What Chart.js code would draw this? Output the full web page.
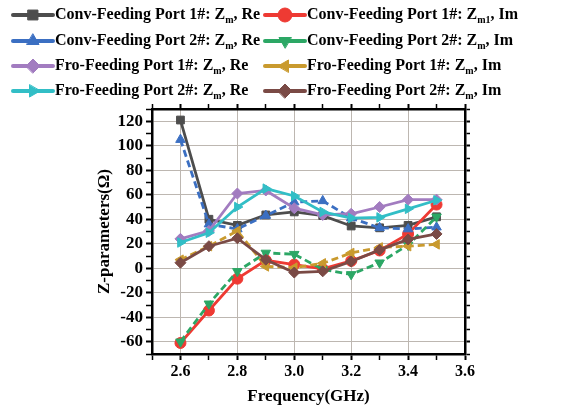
<!DOCTYPE html>
<html>
<head>
<meta charset="utf-8">
<script src="https://cdn.jsdelivr.net/npm/chart.js@4.4.1/dist/chart.umd.min.js"></script>
<style>
  html, body { margin: 0; padding: 0; background: #fff; }
  #wrap { width: 561px; height: 405px; }
</style>
</head>
<body>
<div id="wrap"><canvas id="chart" width="561" height="405"></canvas></div>
<script>
// frequency points (GHz)
const freq = [2.6, 2.7, 2.8, 2.9, 3.0, 3.1, 3.2, 3.3, 3.4, 3.5];

// real parts
const convP1Re = [121, 40, 35, 43.5, 46, 43, 34.5, 33, 35, 42];
const convP2Re = [105, 36, 32, 43, 54, 55, 41, 33, 32, 33.5];
const froP1Re  = [24, 30.5, 61, 63.5, 49, 43.5, 44.5, 50, 56, 56];
const froP2Re  = [21, 29, 50, 65, 59, 46, 41, 41.5, 48.5, 55.5];

// imaginary parts
const convP1Im = [-61, -34.5, -8.5, 6.5, 3, -0.5, 6, 14.5, 28, 52];
const convP2Im = [-60, -29, -2.5, 12.5, 11.5, -1, -5, 4.5, 19, 42];
const froP1Im  = [7, 18, 30.5, 1.5, 0.5, 4, 12.5, 17, 18, 19.5];
const froP2Im  = [4.5, 18, 24.5, 7, -3.5, -2.5, 5.5, 15, 23.5, 28];

// legend text: [before subscript, subscript, after]
const labels = [
    ["Conv-Feeding Port 1#: Z", "m", ", Re"],
    ["Conv-Feeding Port 1#: Z", "m1", ", Im"],
    ["Conv-Feeding Port 2#: Z", "m", ", Re"],
    ["Conv-Feeding Port 2#: Z", "m", ", Im"],
    ["Fro-Feeding Port 1#: Z", "m", ", Re"],
    ["Fro-Feeding Port 1#: Z", "m", ", Im"],
    ["Fro-Feeding Port 2#: Z", "m", ", Re"],
    ["Fro-Feeding Port 2#: Z", "m", ", Im"]
];

const yTicks = [-60, -40, -20, 0, 20, 40, 60, 80, 100, 120];
const xTicks = [2.6, 2.8, 3.0, 3.2, 3.4, 3.6];

const serif = "'Liberation Serif', 'DejaVu Serif', serif";
const gridGray = "#bdb7b1";

function serie(values, color, style, rot, dashed) {
    return {
        data: freq.map((f, i) => ({ x: f, y: values[i] })),
        borderColor: color,
        backgroundColor: color,
        pointBackgroundColor: color,
        pointBorderColor: color,
        pointStyle: style,
        pointRotation: rot,
        pointRadius: 5.5,
        pointBorderWidth: 1,
        borderWidth: 2.8,
        borderDash: dashed ? [7, 4] : [],
        tension: 0
    };
}

// legend order (row by row), later ones drawn on top
const datasets = [
    serie(convP1Re, "#4d4d4d", "rect", 0, false),
    serie(convP1Im, "#ee3a33", "circle", 0, false),
    serie(convP2Re, "#3b6fc2", "triangle", 0, true),
    serie(convP2Im, "#2ca765", "triangle", 180, true),
    serie(froP1Re, "#a27cc0", "rectRot", 0, false),
    serie(froP1Im, "#c99a2e", "triangle", 270, true),
    serie(froP2Re, "#32bec6", "triangle", 90, false),
    serie(froP2Im, "#7a4a45", "rectRot", 0, false)
];
datasets.forEach((d, i) => { d.order = datasets.length - i; });

const legendBlock = {
    id: "legendBlock",
    afterDraw(chart) {
        const ctx = chart.ctx;
        const rows = [15, 41, 66, 91];
        const cols = [13, 265];
        datasets.forEach((ds, i) => {
            const x0 = cols[i % 2];
            const y = rows[Math.floor(i / 2)];
            ctx.save();
            ctx.strokeStyle = ds.borderColor;
            ctx.lineWidth = 4;
            ctx.lineCap = "round";
            ctx.beginPath();
            ctx.moveTo(x0, y);
            ctx.lineTo(x0 + 40, y);
            ctx.stroke();
            ctx.fillStyle = ds.pointBackgroundColor;
            ctx.lineWidth = 1;
            Chart.helpers.drawPoint(ctx, {
                pointStyle: ds.pointStyle,
                rotation: ds.pointRotation,
                radius: 7,
                borderWidth: 1
            }, x0 + 20, y);

            const t = labels[i];
            let x = x0 + 42;
            ctx.fillStyle = "#000";
            ctx.textBaseline = "middle";
            ctx.textAlign = "left";
            ctx.font = "bold 16px " + serif;
            ctx.fillText(t[0], x, y);
            x += ctx.measureText(t[0]).width;
            ctx.font = "bold 10px " + serif;
            ctx.fillText(t[1], x, y + 5);
            x += ctx.measureText(t[1]).width;
            ctx.font = "bold 16px " + serif;
            ctx.fillText(t[2], x, y);
            ctx.restore();
        });
    }
};

const xFont = { family: serif, size: 16, weight: "bold" };
const yFont = { family: serif, size: 17, weight: "bold" };
const border = { color: "#000", width: 2.5 };

const isMajorY = v => v % 20 === 0 && v >= -60 && v <= 120;
const isMajorX = v => { const k = Math.round(v * 10); return k % 2 === 0 && k >= 26; };

new Chart(document.getElementById("chart"), {
    type: "line",
    data: { datasets: datasets },
    plugins: [legendBlock],
    options: {
        responsive: false,
        animation: false,
        layout: { padding: 0 },
        plugins: { legend: { display: false }, tooltip: { enabled: false } },
        scales: {
            x: {
                type: "linear",
                position: "bottom",
                min: 2.5,
                max: 3.6,
                afterBuildTicks: s => { s.ticks = [2.5,2.6,2.7,2.8,2.9,3.0,3.1,3.2,3.3,3.4,3.5,3.6].map(v => ({ value: v })); },
                ticks: {
                    autoSkip: false,
                    maxRotation: 0,
                    padding: 2,
                    color: "#000",
                    font: xFont,
                    callback: v => xTicks.some(t => Math.abs(t - v) < 1e-6) ? v.toFixed(1) : ""
                },
                grid: {
                    color: c => (c.tick && isMajorX(c.tick.value) && c.tick.value < 3.55) ? gridGray : "rgba(0,0,0,0)",
                    tickColor: "#000",
                    tickLength: 6,
                    tickWidth: c => (c.tick && isMajorX(c.tick.value)) ? 2 : 1.5
                },
                border: border,
                title: {
                    display: true,
                    text: "Frequency(GHz)",
                    color: "#000",
                    font: { family: serif, size: 17, weight: "bold", lineHeight: 1 },
                    padding: 0
                },
                afterFit: s => { s.height = 51; }
            },
            x2: {
                type: "linear",
                position: "top",
                min: 2.5,
                max: 3.6,
                afterBuildTicks: s => { s.ticks = [2.5,2.6,2.7,2.8,2.9,3.0,3.1,3.2,3.3,3.4,3.5,3.6].map(v => ({ value: v })); },
                ticks: { display: false },
                grid: {
                    drawOnChartArea: false,
                    color: "#000",
                    tickLength: 5,
                    tickWidth: c => (c.tick && isMajorX(c.tick.value)) ? 2 : 1.5
                },
                border: border,
                afterFit: s => { s.height = 109; }
            },
            y: {
                type: "linear",
                position: "left",
                min: -70,
                max: 130,
                ticks: {
                    stepSize: 10,
                    autoSkip: false,
                    padding: 3,
                    color: "#000",
                    font: yFont,
                    callback: v => isMajorY(v) ? String(v) : ""
                },
                grid: {
                    color: c => (c.tick && isMajorY(c.tick.value)) ? gridGray : "rgba(0,0,0,0)",
                    tickColor: "#000",
                    tickLength: 6,
                    tickWidth: c => (c.tick && isMajorY(c.tick.value)) ? 2 : 1.5
                },
                border: border,
                title: {
                    display: true,
                    text: "Z-parameters(Ω)",
                    color: "#000",
                    font: { family: serif, size: 17, weight: "bold", lineHeight: 1 },
                    padding: { top: 96, bottom: 0 }
                },
                afterFit: s => { s.width = 152; }
            },
            y2: {
                type: "linear",
                position: "right",
                min: -70,
                max: 130,
                ticks: { display: false, stepSize: 10 },
                grid: {
                    drawOnChartArea: false,
                    color: "#000",
                    tickLength: 5,
                    tickWidth: c => (c.tick && isMajorY(c.tick.value)) ? 2 : 1.5
                },
                border: border,
                afterFit: s => { s.width = 96; }
            }
        }
    }
});
</script>
</body>
</html>
